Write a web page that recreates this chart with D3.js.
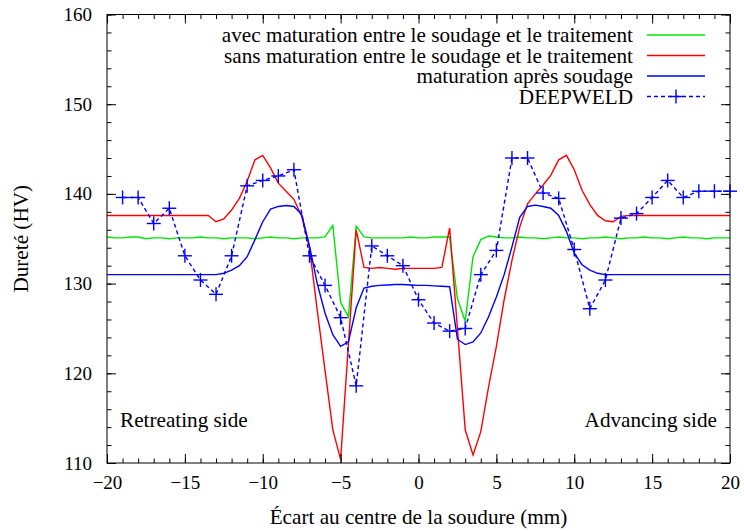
<!DOCTYPE html>
<html>
<head>
<meta charset="utf-8">
<script src="https://cdn.jsdelivr.net/npm/d3@7"></script>
<style>
  html, body { margin: 0; padding: 0; background: #fff; }
  svg { display: block; font-family: "Liberation Serif", "Times New Roman", serif; }
</style>
</head>
<body>
<svg id="chart" width="744" height="531"></svg>
<script>
// ---------- DATA ----------
// Simulation profiles sampled every 0.5 mm from -20 to 20 mm
const simX = d3.range(0, 81).map(i => -20 + i * 0.5);

const avecMaturation = [
  135.2, 135.1, 135.1, 135.2, 135.2, 135.0, 135.1, 135.1, 135.0, 135.1,
  135.1, 135.1, 135.2, 135.1, 135.1, 135.0, 135.1, 135.1, 135.1, 135.0,
  135.1, 135.2, 135.1, 135.1, 135.0, 135.1, 135.1, 135.1, 135.2,
  136.5, 127.9, 126.3, 136.4, 135.2, 135.1, 135.1, 135.1, 135.1, 135.1,
  135.2, 135.1, 135.1, 135.2, 135.2, 135.2,
  128.3, 125.8, 133.0, 134.9, 135.3, 135.2, 135.1, 135.1, 135.2, 135.1,
  135.1, 135.0, 135.1, 135.2, 135.1, 135.1, 135.0, 135.1, 135.1, 135.2,
  135.1, 135.0, 135.1, 135.1, 135.2, 135.1, 135.1, 135.0, 135.1, 135.2,
  135.1, 135.1, 135.0, 135.1, 135.1, 135.1
];

const sansMaturation = [
  137.6, 137.6, 137.6, 137.6, 137.6, 137.6, 137.6, 137.6, 137.6, 137.6,
  137.6, 137.6, 137.6, 137.6,
  136.9, 137.2, 138.2, 139.5, 141.4, 143.8, 144.3, 142.9, 141.2, 140.3,
  139.4, 137.5, 134.0, 127.0, 120.3, 113.7, 110.4, 123.2, 136.0, 131.8,
  131.7, 131.8, 131.7, 131.6, 131.7, 131.7, 131.7, 131.7, 131.7, 131.8,
  136.2, 125.0, 113.7, 110.9, 113.5, 118.5, 123.0, 128.2, 132.6, 136.3,
  138.9, 140.0, 141.0, 142.1, 143.8, 144.3, 142.7, 140.4, 138.8, 137.6,
  137.0, 136.9, 137.5,
  137.6, 137.6, 137.6, 137.6, 137.6, 137.6, 137.6, 137.6, 137.6, 137.6,
  137.6, 137.6, 137.6, 137.6
];

const maturationApres = [
  131.0, 131.0, 131.0, 131.0, 131.0, 131.0, 131.0, 131.0, 131.0, 131.0,
  131.0, 131.0, 131.0, 131.0, 131.0,
  131.15, 131.5, 132.0, 133.0, 134.9, 136.9, 138.3, 138.6, 138.7, 138.6,
  137.7, 134.2, 130.0, 126.7, 124.3, 123.0, 123.5, 127.3, 129.5, 129.7,
  129.8, 129.85, 129.9, 129.9, 129.85, 129.8, 129.8, 129.75, 129.7, 129.65,
  123.8, 123.2, 123.5, 124.5, 126.3, 128.5, 131.0, 134.1, 137.4, 138.6,
  138.75, 138.6, 138.4, 137.6, 135.8, 133.4, 132.1, 131.5, 131.15,
  131.0, 131.0, 131.0, 131.0, 131.0, 131.0, 131.0, 131.0, 131.0, 131.0,
  131.0, 131.0, 131.0, 131.0, 131.0, 131.0, 131.0
];

// DEEPWELD measurements, every 1 mm from -19 to 20 mm
const deepX = d3.range(-19, 21);
const deepweld = [
  139.6, 139.6, 136.7, 138.4, 133.1, 130.4, 128.8, 133.1, 140.9, 141.5,
  142.0, 142.7, 133.1, 129.8, 126.2, 118.6, 134.2, 133.1, 132.0, 128.2,
  125.6, 124.7, 125.0, 131.0, 133.7, 144.0, 144.0, 140.1, 139.5, 133.8,
  127.2, 130.4, 137.3, 137.8, 139.6, 141.5, 139.6, 140.3, 140.3, 140.3
];

const seriesNames = [
  "avec maturation entre le soudage et le traitement",
  "sans maturation entre le soudage et le traitement",
  "maturation après soudage",
  "DEEPWELD"
];
const xTicks = [-20, -15, -10, -5, 0, 5, 10, 15, 20];
const yTicks = [110, 120, 130, 140, 150, 160];
const xTitle = "Écart au centre de la soudure (mm)";
const yTitle = "Dureté (HV)";
const sideLabels = ["Retreating side", "Advancing side"];

// ---------- DRAWING ----------
const svg = d3.select("#chart");
const L = 107, R = 730, T = 14.5, B = 463;
const FS = 19;     // tick numbers
const FT = 21.2;   // words
const SW = 1.4;
const FONT = "Liberation Serif, Times New Roman, serif";
const x = d3.scaleLinear().domain([-20, 20]).range([L, R]);
const y = d3.scaleLinear().domain([110, 160]).range([B, T]);

const colors = ["#00e600", "#ff0000", "#0000ff", "#0000ff"];

const plot = svg.append("g");

// minor ticks (all four sides, inward)
const minorX = d3.range(-20, 21, 1);
const minorY = d3.range(110, 161, 2);
function styleAxis(g) {
  g.attr("font-family", FONT);
  g.select(".domain").remove();
  g.selectAll(".tick line").attr("stroke", "#000").attr("stroke-width", 1);
  g.selectAll("text").attr("font-size", FS).attr("fill", "#000").attr("font-family", FONT);
}
svg.append("g").attr("transform", `translate(0,${B})`)
  .call(d3.axisBottom(x).tickValues(minorX).tickSize(-4.5).tickFormat(""))
  .call(styleAxis);
svg.append("g").attr("transform", `translate(0,${T})`)
  .call(d3.axisTop(x).tickValues(minorX).tickSize(-4.5).tickFormat(""))
  .call(styleAxis);
svg.append("g").attr("transform", `translate(${L},0)`)
  .call(d3.axisLeft(y).tickValues(minorY).tickSize(-4.5).tickFormat(""))
  .call(styleAxis);
svg.append("g").attr("transform", `translate(${R},0)`)
  .call(d3.axisRight(y).tickValues(minorY).tickSize(-4.5).tickFormat(""))
  .call(styleAxis);

// major ticks + labels
svg.append("g").attr("transform", `translate(0,${B})`)
  .call(d3.axisBottom(x).tickValues(xTicks).tickSize(-9).tickPadding(13).tickFormat(d3.format("d")))
  .call(styleAxis);
svg.append("g").attr("transform", `translate(0,${T})`)
  .call(d3.axisTop(x).tickValues(xTicks).tickSize(-9).tickFormat(""))
  .call(styleAxis);
svg.append("g").attr("transform", `translate(${L},0)`)
  .call(d3.axisLeft(y).tickValues(yTicks).tickSize(-9).tickPadding(15).tickFormat(d3.format("d")))
  .call(styleAxis);
svg.append("g").attr("transform", `translate(${R},0)`)
  .call(d3.axisRight(y).tickValues(yTicks).tickSize(-9).tickFormat(""))
  .call(styleAxis);

// frame
svg.append("rect").attr("x", L).attr("y", T).attr("width", R - L).attr("height", B - T)
  .attr("fill", "none").attr("stroke", "#000").attr("stroke-width", 1);

// lines
const line = d3.line().x(d => x(d[0])).y(d => y(d[1]));
const simSeries = [avecMaturation, sansMaturation, maturationApres];
simSeries.forEach((vals, i) => {
  plot.append("path")
    .datum(simX.map((xx, j) => [xx, vals[j]]))
    .attr("d", line)
    .attr("fill", "none")
    .attr("stroke", colors[i])
    .attr("stroke-width", SW);
});
const deepData = deepX.map((xx, j) => [xx, deepweld[j]]);
plot.append("path")
  .datum(deepData)
  .attr("d", line)
  .attr("fill", "none")
  .attr("stroke", colors[3])
  .attr("stroke-width", SW)
  .attr("stroke-dasharray", "4,3");
const M = 7;
const marks = plot.append("g").attr("stroke", colors[3]).attr("stroke-width", SW);
deepData.forEach(d => {
  const cx = x(d[0]), cy = y(d[1]);
  marks.append("line").attr("x1", cx - M).attr("x2", cx + M).attr("y1", cy).attr("y2", cy);
  marks.append("line").attr("x1", cx).attr("x2", cx).attr("y1", cy - M).attr("y2", cy + M);
});

// legend
const legTextX = 633, legX1 = 647, legX2 = 705;
const legY = [35, 55.5, 76, 96.5];
seriesNames.forEach((name, i) => {
  svg.append("text").attr("x", legTextX).attr("y", legY[i]).attr("dy", "0.35em")
    .attr("text-anchor", "end").attr("font-size", FT).attr("font-family", FONT).text(name);
  const ln = svg.append("line").attr("x1", legX1).attr("x2", legX2)
    .attr("y1", legY[i]).attr("y2", legY[i])
    .attr("stroke", colors[i]).attr("stroke-width", SW);
  if (i === 3) {
    ln.attr("stroke-dasharray", "4,3");
    const cx = (legX1 + legX2) / 2;
    svg.append("line").attr("x1", cx - M).attr("x2", cx + M).attr("y1", legY[i]).attr("y2", legY[i])
      .attr("stroke", colors[i]).attr("stroke-width", SW);
    svg.append("line").attr("x1", cx).attr("x2", cx).attr("y1", legY[i] - M).attr("y2", legY[i] + M)
      .attr("stroke", colors[i]).attr("stroke-width", SW);
  }
});

// side annotations
svg.append("text").attr("x", 120).attr("y", 420).attr("dy", "0.35em")
  .attr("font-size", FT).attr("font-family", FONT).text(sideLabels[0]);
svg.append("text").attr("x", 717).attr("y", 420).attr("dy", "0.35em")
  .attr("text-anchor", "end").attr("font-size", FT).attr("font-family", FONT).text(sideLabels[1]);

// axis titles
svg.append("text").attr("x", (L + R) / 2).attr("y", 517).attr("dy", "0.35em")
  .attr("text-anchor", "middle").attr("font-size", FT).attr("font-family", FONT).text(xTitle);
svg.append("text").attr("transform", `translate(21,${(T + B) / 2}) rotate(-90)`)
  .attr("dy", "0.35em").attr("text-anchor", "middle").attr("font-size", FT).attr("font-family", FONT).text(yTitle);
</script>
</body>
</html>
